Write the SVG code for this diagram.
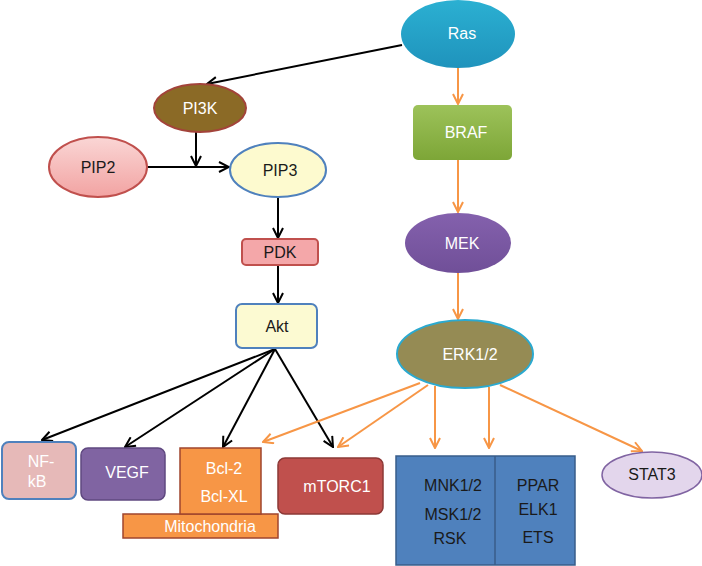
<svg xmlns="http://www.w3.org/2000/svg" width="702" height="566" viewBox="0 0 702 566">
<defs>
<style>
text{font-family:"Liberation Sans",Arial,sans-serif;font-size:16px;text-anchor:middle}
.w{fill:#ffffff}
.d{fill:#1a1a1a}
.k{stroke:#000;stroke-width:2;fill:none}
.o{stroke:#F79646;stroke-width:2;fill:none}
</style>
<linearGradient id="gRas" x1="0" y1="0" x2="0" y2="1"><stop offset="0" stop-color="#2BB0D2"/><stop offset="1" stop-color="#1F93BC"/></linearGradient>
<linearGradient id="gBraf" x1="0" y1="0" x2="0" y2="1"><stop offset="0" stop-color="#9DC25A"/><stop offset="1" stop-color="#7DA637"/></linearGradient>
<linearGradient id="gMek" x1="0" y1="0" x2="0" y2="1"><stop offset="0" stop-color="#8461AD"/><stop offset="1" stop-color="#704F98"/></linearGradient>
<linearGradient id="gPip2" x1="0" y1="0" x2="0" y2="1"><stop offset="0" stop-color="#FAD6D5"/><stop offset="1" stop-color="#F2A3A2"/></linearGradient>
<marker id="ak" viewBox="0 0 12 12" refX="11" refY="6" markerWidth="12" markerHeight="12" markerUnits="userSpaceOnUse" orient="auto"><path d="M1,1 L11,6 L1,11" fill="none" stroke="#000" stroke-width="2"/></marker>
<marker id="ao" viewBox="0 0 12 12" refX="11" refY="6" markerWidth="12" markerHeight="12" markerUnits="userSpaceOnUse" orient="auto"><path d="M1,1 L11,6 L1,11" fill="none" stroke="#F79646" stroke-width="2"/></marker>
</defs>
<g id="connectors">
<line class="k" x1="402" y1="45" x2="207" y2="84" marker-end="url(#ak)"/>
<line class="k" x1="196" y1="132" x2="196" y2="166" marker-end="url(#ak)"/>
<line class="k" x1="147" y1="167" x2="229" y2="167" marker-end="url(#ak)"/>
<line class="k" x1="278" y1="197" x2="278" y2="238" marker-end="url(#ak)"/>
<line class="k" x1="278" y1="265" x2="278" y2="303" marker-end="url(#ak)"/>
<line class="k" x1="275" y1="349" x2="42" y2="440" marker-end="url(#ak)"/>
<line class="k" x1="275" y1="349" x2="125" y2="447" marker-end="url(#ak)"/>
<line class="k" x1="275" y1="349" x2="223" y2="447" marker-end="url(#ak)"/>
<line class="k" x1="275" y1="349" x2="333" y2="447" marker-end="url(#ak)"/>
<line class="o" x1="458" y1="68" x2="458" y2="104" marker-end="url(#ao)"/>
<line class="o" x1="458" y1="160" x2="458" y2="212" marker-end="url(#ao)"/>
<line class="o" x1="458" y1="273" x2="458" y2="319" marker-end="url(#ao)"/>
<line class="o" x1="420" y1="383" x2="263" y2="442" marker-end="url(#ao)"/>
<line class="o" x1="428" y1="385" x2="338" y2="447" marker-end="url(#ao)"/>
<line class="o" x1="435" y1="386" x2="435" y2="448" marker-end="url(#ao)"/>
<line class="o" x1="489" y1="387" x2="489" y2="448" marker-end="url(#ao)"/>
<line class="o" x1="500" y1="385" x2="642" y2="451" marker-end="url(#ao)"/>
</g>
<g id="Ras"><ellipse cx="458" cy="34" rx="57" ry="34" fill="url(#gRas)"/><text class="w" x="462" y="39">Ras</text></g>
<g id="BRAF"><rect x="413" y="105" width="99" height="55" rx="5" fill="url(#gBraf)"/><text class="w" x="466" y="138">BRAF</text></g>
<g id="MEK"><ellipse cx="458" cy="243" rx="53" ry="30" fill="url(#gMek)"/><text class="w" x="462" y="249">MEK</text></g>
<g id="ERK"><ellipse cx="465" cy="354" rx="68" ry="34" fill="#958B54" stroke="#2BA9CF" stroke-width="2"/><text class="w" x="470" y="360">ERK1/2</text></g>
<g id="PI3K"><ellipse cx="200" cy="108" rx="46" ry="24" fill="#8B6A26" stroke="#A3433A" stroke-width="2"/><text class="w" x="200" y="114">PI3K</text></g>
<g id="PIP2"><ellipse cx="98" cy="167" rx="49" ry="30" fill="url(#gPip2)" stroke="#C0504D" stroke-width="2"/><text class="d" x="98" y="173">PIP2</text></g>
<g id="PIP3"><ellipse cx="278" cy="170" rx="48" ry="27" fill="#FDFACF" stroke="#4F81BD" stroke-width="2"/><text class="d" x="280" y="176">PIP3</text></g>
<g id="PDK"><rect x="242" y="239" width="76" height="26" rx="4" fill="#F4A7A9" stroke="#C0504D" stroke-width="2"/><text class="d" x="280" y="258">PDK</text></g>
<g id="Akt"><rect x="236" y="304" width="81" height="44" rx="6" fill="#FCFAD2" stroke="#4F81BD" stroke-width="2"/><text class="d" x="277" y="332">Akt</text></g>
<g id="NFkB"><rect x="2" y="442" width="74" height="57" rx="7" fill="#E6B9B8" stroke="#4F81BD" stroke-width="2"/><text class="w" x="41" y="467">NF-</text><text class="w" x="37" y="487">kB</text></g>
<g id="VEGF"><rect x="81" y="448" width="84" height="52" rx="7" fill="#8064A2" stroke="#5F4880" stroke-width="1.5"/><text class="w" x="127" y="478">VEGF</text></g>
<g id="Mitochondria"><rect x="123" y="514" width="155" height="24" fill="#F79646" stroke="#A0452E" stroke-width="1.5"/><text class="w" x="210" y="532">Mitochondria</text></g>
<g id="Bcl"><rect x="180" y="448" width="81" height="66" fill="#F79646" stroke="#A0452E" stroke-width="1.5"/><text class="w" x="224" y="474">Bcl-2</text><text class="w" x="224" y="502">Bcl-XL</text></g>
<g id="mTORC1"><rect x="278" y="458" width="105" height="56" rx="7" fill="#C0504D" stroke="#8C3836" stroke-width="1.5"/><text class="w" x="337" y="492">mTORC1</text></g>
<g id="Targets"><rect x="396" y="456" width="179" height="109" fill="#4F81BD" stroke="#385D8A" stroke-width="1.5"/><line x1="495" y1="456" x2="495" y2="565" stroke="#385D8A" stroke-width="1.5"/>
<text class="d" x="453" y="491">MNK1/2</text><text class="d" x="453" y="520">MSK1/2</text><text class="d" x="450" y="544">RSK</text>
<text class="d" x="538" y="491">PPAR</text><text class="d" x="538" y="515">ELK1</text><text class="d" x="538" y="543">ETS</text></g>
<g id="STAT3"><ellipse cx="652" cy="475" rx="50" ry="23" fill="#E3D6EC" stroke="#8064A2" stroke-width="1.5"/><text class="d" x="652" y="480">STAT3</text></g>
</svg>
